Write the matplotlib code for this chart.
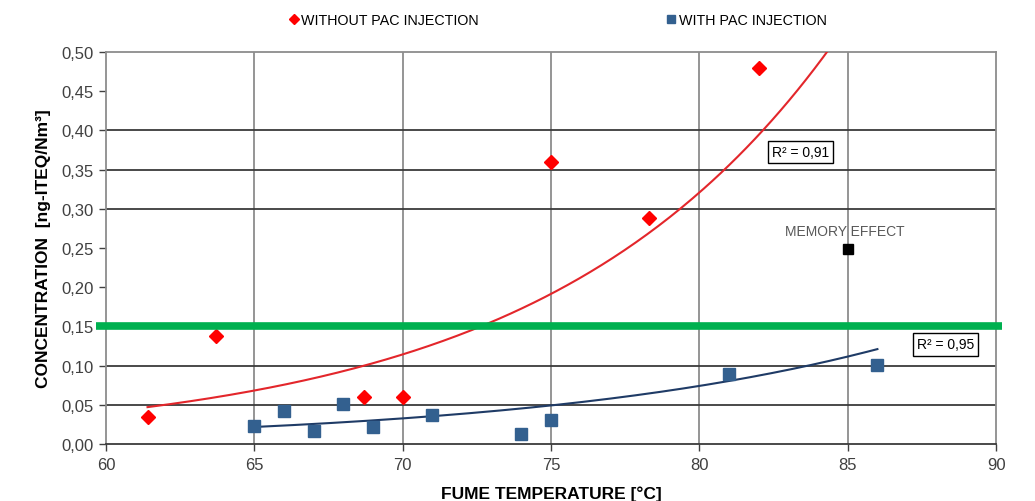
import matplotlib
matplotlib.use("Agg")
import matplotlib.pyplot as plt
from matplotlib.lines import Line2D
import numpy as np

plt.rcParams['font.family'] = ['Liberation Sans', 'DejaVu Sans']

# without PAC injection (red diamonds)
temp_without = [61.4, 63.7, 68.7, 70.0, 75.0, 78.3, 82.0]
conc_without = [0.035, 0.138, 0.060, 0.060, 0.360, 0.288, 0.480]

# with PAC injection (blue squares)
temp_with = [65, 66, 67, 68, 69, 71, 74, 75, 81, 86]
conc_with = [0.023, 0.042, 0.017, 0.051, 0.022, 0.037, 0.013, 0.031, 0.089, 0.101]

# memory effect outlier
temp_memory = [85]
conc_memory = [0.249]

# exponential trendlines y = a * exp(b * x)
trend_without = (8.33e-5, 0.1032)
trend_with = (1.066e-4, 0.0818)

limit_value = 0.15
r2_without = "R² = 0,91"
r2_with = "R² = 0,95"

xticks = [60, 65, 70, 75, 80, 85, 90]
yticks = [0.00, 0.05, 0.10, 0.15, 0.20, 0.25, 0.30, 0.35, 0.40, 0.45, 0.50]
ygrid = [0.05, 0.10, 0.30, 0.35, 0.40]

red = '#FF0000'
blue = '#33608F'

fig = plt.figure(figsize=(10.35, 5.02), dpi=100)
ax = fig.add_axes([0.1024, 0.1135, 0.86, 0.781])

def trend(params, t):
    a, b = params
    return a * np.exp(b * t)

xr = np.linspace(min(temp_without), 90, 300)
xb = np.linspace(min(temp_with), max(temp_with), 300)

# grid
for gx in xticks[1:-1]:
    ax.axvline(gx, color='#8C8C8C', lw=1.3, zorder=1)
for gy in ygrid:
    ax.axhline(gy, color='#3A3A3A', lw=1.3, zorder=1)

ax.plot(xr, trend(trend_without, xr), color='#E3262B', lw=1.5, zorder=3)
ax.plot(xb, trend(trend_with, xb), color='#1F3B66', lw=1.5, zorder=3)

ax.plot(temp_without, conc_without, 'D', color=red, ms=7, mec=red, zorder=4)
ax.plot(temp_with, conc_with, 's', color=blue, ms=8, mec=blue, zorder=4)
ax.plot(temp_memory, conc_memory, 's', color='black', ms=7, zorder=4)

ax.plot([59.66, 90.2], [limit_value, limit_value], color='#00B050', lw=5.5,
        solid_capstyle='butt', clip_on=False, zorder=5)

ax.text(84.9, 0.272, "MEMORY EFFECT", color='#595959', fontsize=10,
        ha='center', va='center', zorder=6)
ax.text(83.4, 0.372, r2_without, fontsize=10, ha='center', va='center', zorder=6,
        bbox=dict(boxstyle='square,pad=0.3', fc='white', ec='black', lw=1))
ax.text(88.3, 0.127, r2_with, fontsize=10, ha='center', va='center', zorder=6,
        bbox=dict(boxstyle='square,pad=0.3', fc='white', ec='black', lw=1))

ax.set_xlim(60, 90)
ax.set_ylim(0, 0.5)
ax.set_xticks(xticks)
ax.set_yticks(yticks)
ax.set_yticklabels([f"{v:.2f}".replace('.', ',') for v in yticks])
ax.tick_params(axis='both', labelsize=12, colors='#404040', length=5, width=1)
ax.tick_params(axis='y', pad=4)
ax.tick_params(axis='x', pad=4)

for side in ['top', 'right', 'left']:
    ax.spines[side].set_color('#8C8C8C')
    ax.spines[side].set_linewidth(1.3)
ax.spines['bottom'].set_color('#3A3A3A')
ax.spines['bottom'].set_linewidth(1.3)

ax.set_xlabel("FUME TEMPERATURE [°C]", fontsize=12.5, fontweight='bold', labelpad=10)
ax.set_ylabel("CONCENTRATION  [ng-ITEQ/Nm³]", fontsize=12.5, fontweight='bold', labelpad=7)

handles = [
    Line2D([], [], marker='D', color=red, ls='none', ms=5),
    Line2D([], [], marker='s', color=blue, ls='none', ms=6),
]
fig.legend(handles, ["WITHOUT PAC INJECTION", "WITH PAC INJECTION"],
           loc='center left', bbox_to_anchor=(0.267, 0.958), ncol=2, frameon=False,
           fontsize=10.3, handlelength=0.6, handletextpad=0.2, columnspacing=13.2)

fig.savefig('out.png', dpi=100)
